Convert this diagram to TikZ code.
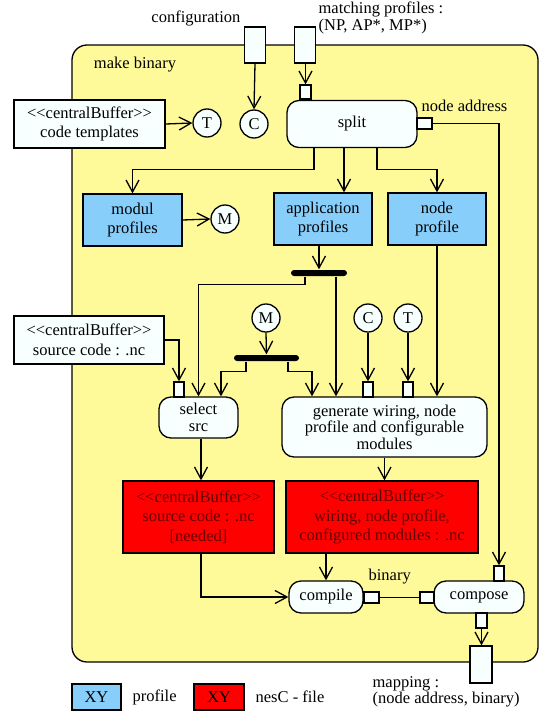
\documentclass[tikz,border=0pt]{standalone}
\usepackage{fontspec}
\setmainfont{Liberation Serif}
\usetikzlibrary{positioning,arrows.meta}
\definecolor{frameyellow}{RGB}{255,250,153}
\definecolor{paper}{RGB}{248,255,255}
\definecolor{profblue}{RGB}{135,206,250}
\definecolor{nescred}{RGB}{255,0,0}
\definecolor{nesctext}{RGB}{100,0,0}
\newcommand{\centralbuf}{<\kern0pt<centralBuffer>\kern0pt>}

\begin{document}
\begin{tikzpicture}[x=1pt,y=-1pt,line width=1.3pt,
    every node/.style={font=\fontsize{16.5}{19.5}\selectfont},
    lbl/.style={font=\fontsize{16.5}{16.5}\selectfont,inner sep=0pt,align=left},
    act/.style={draw,fill=paper,rounded corners=12pt,align=center,inner sep=0pt,
      font=\fontsize{16.5}{16.5}\selectfont},
    buf/.style={draw,fill=paper,align=center,inner sep=0pt},
    prof/.style={draw,fill=profblue,align=center,inner sep=0pt,minimum width=98,minimum height=52},
    nesc/.style={draw,fill=nescred,text=nesctext,align=center,inner sep=0pt,minimum height=72},
    conn/.style={circle,draw,fill=paper,inner sep=0pt,minimum size=28},
    pin/.style={draw,fill=paper,inner sep=0pt},
    fork/.style={fill=black,rounded corners=3pt,inner sep=0pt,minimum height=6},
    flow/.style={-{Straight Barb[length=12pt,width=13pt]}}]
  \useasboundingbox (0,0) rectangle (540,712);

  % activity frame
  \draw[fill=frameyellow,rounded corners=15pt] (72,45) rectangle (538,662);
  \node[anchor=west] (title) at (90,65) {make binary};

  % parameters on the frame
  \node[pin,minimum width=21,minimum height=36] (cfgpin) at (255,45) {};
  \node[pin,minimum width=21,minimum height=36] (matchpin) at (305,45) {};
  \node[lbl,anchor=east] (cfglabel) at (241,18) {configuration};
  \node[lbl,anchor=west] (matchlabel) at (318,18) {matching profiles :\\(NP, AP*, MP*)};

  % top row
  \node[buf,minimum width=151,minimum height=48] (tmpl) at (89.5,124) {\centralbuf\\code templates};
  \node[conn] (T1) at (207,123) {T};
  \node[conn] (C1) at (254,124) {C};
  \node[act,minimum width=130,minimum height=47] (split) at (352,124) {split};
  \node[pin,minimum width=11,minimum height=14] (splitin) at (305.5,92) {};
  \node[pin,minimum width=15,minimum height=11] (splitout) at (424.5,123.5) {};
  \node[lbl,anchor=west] (addrlabel) at (421,106) {node address};

  % profiles
  \node[prof,minimum width=99] (modul) at (132.5,220) {modul\\profiles};
  \node[conn] (M1) at (225,219) {M};
  \node[prof] (appl) at (323,219) {application\\profiles};
  \node[prof] (nodep) at (437,219) {node\\profile};
  \node[fork,minimum width=56] (fork1) at (319,273) {};

  % sources and generation
  \node[buf,minimum width=150,minimum height=48] (srcbuf) at (89,340) {\centralbuf\\source code : .nc};
  \node[conn] (M2) at (266,318) {M};
  \node[conn] (C2) at (368,318) {C};
  \node[conn] (T2) at (408,318) {T};
  \node[fork,minimum width=65] (fork2) at (266.5,358) {};
  \node[act,minimum width=79,minimum height=41] (sel) at (198.5,417.5) {select\\src};
  \node[pin,minimum width=10,minimum height=15] (srcpin) at (179,389.5) {};
  \node[act,minimum width=205,minimum height=60] (gen) at (384.5,427) {generate wiring, node\\profile and configurable\\modules};
  \node[pin,minimum width=10,minimum height=15] (cpin) at (368,389.5) {};
  \node[pin,minimum width=10,minimum height=15] (tpin) at (408,389.5) {};

  % nesC buffers
  \node[nesc,minimum width=151] (red1) at (198.5,517) {\centralbuf\\source code : .nc\\{[needed]}};
  \node[nesc,minimum width=192] (red2) at (382,517) {\centralbuf\\wiring, node profile,\\configured modules : .nc};

  % compile and compose
  \node[act,minimum width=74,minimum height=32] (comp) at (326,597) {compile};
  \node[pin,minimum width=15,minimum height=11] (comppin) at (371.5,597.5) {};
  \node[lbl,anchor=west] (binlabel) at (368,577) {binary};
  \node[act,minimum width=90,minimum height=32] (cmps) at (479,597) {compose};
  \node[pin,minimum width=14,minimum height=11] (cmpsin) at (427,597.5) {};
  \node[pin,minimum width=10,minimum height=15] (cmpstop) at (499,573.5) {};
  \node[pin,minimum width=11,minimum height=15] (cmpsbot) at (481.5,620.5) {};
  \node[pin,minimum width=22,minimum height=37] (outpin) at (481,664.5) {};
  \node[lbl,anchor=west] (maplabel) at (372,692) {mapping :\\(node address, binary)};

  % legend
  \node[prof,minimum width=49,minimum height=26] (legblue) at (96.5,697) {XY};
  \node[right=7pt of legblue] (legbluetxt) {profile};
  \node[nesc,text=black,minimum width=50,minimum height=26] (legred) at (219,697) {XY};
  \node[right=7pt of legred] (legredtxt) {nesC - file};

  % flows
  \draw[flow] (cfgpin.south) -- (C1.north);
  \draw[flow] (matchpin.south -| splitin.north) -- (splitin.north);
  \draw[flow] (tmpl.east) -- (T1.west);
  \draw[flow] ([xshift=-38]split.south) -- ++(0,21) -| (modul.north);
  \draw[flow] ([xshift=-8]split.south) -- ([xshift=-8]split.south |- appl.north);
  \draw[flow] ([xshift=25]split.south) -- ++(0,21) -| (nodep.north);
  \draw[flow] (modul.east) -- (M1.west);
  \draw[flow] (splitout.east) -| (cmpstop.north);
  \draw[flow] ([xshift=-4]appl.south) -- ([xshift=-4]appl.south |- fork1.north);
  \draw[flow] ([xshift=-14]fork1.south) -- ++(0,8) -| (sel.north);
  \draw[flow] ([xshift=17]fork1.south) -- ([xshift=17]fork1.south |- gen.north);
  \draw[flow] (nodep.south) -- (nodep.south |- gen.north);
  \draw[flow] (M2.south) -- (fork2.north);
  \draw[flow] ([xshift=-20.5]fork2.south) -- ++(0,10) -| ([xshift=22.5]sel.north);
  \draw[flow] ([xshift=21.5]fork2.south) -- ++(0,10) -| ([xshift=-72.5]gen.north);
  \draw[flow] (srcbuf.east) -| (srcpin.north);
  \draw[flow] (C2.south) -- (cpin.north);
  \draw[flow] (T2.south) -- (tpin.north);
  \draw[flow] ([xshift=2.5]sel.south) -- ([xshift=2.5]sel.south |- red1.north);
  \draw[flow] (gen.south) -- (gen.south |- red2.north);
  \draw[flow] (red2.south -| comp.north) -- (comp.north);
  \draw[flow] ([xshift=2.5]red1.south) |- (comp.west);
  \draw (comppin.east) -- (cmpsin.west);
  \draw[flow] (cmpsbot.south) -- (outpin.north -| cmpsbot.south);
\end{tikzpicture}
\end{document}
